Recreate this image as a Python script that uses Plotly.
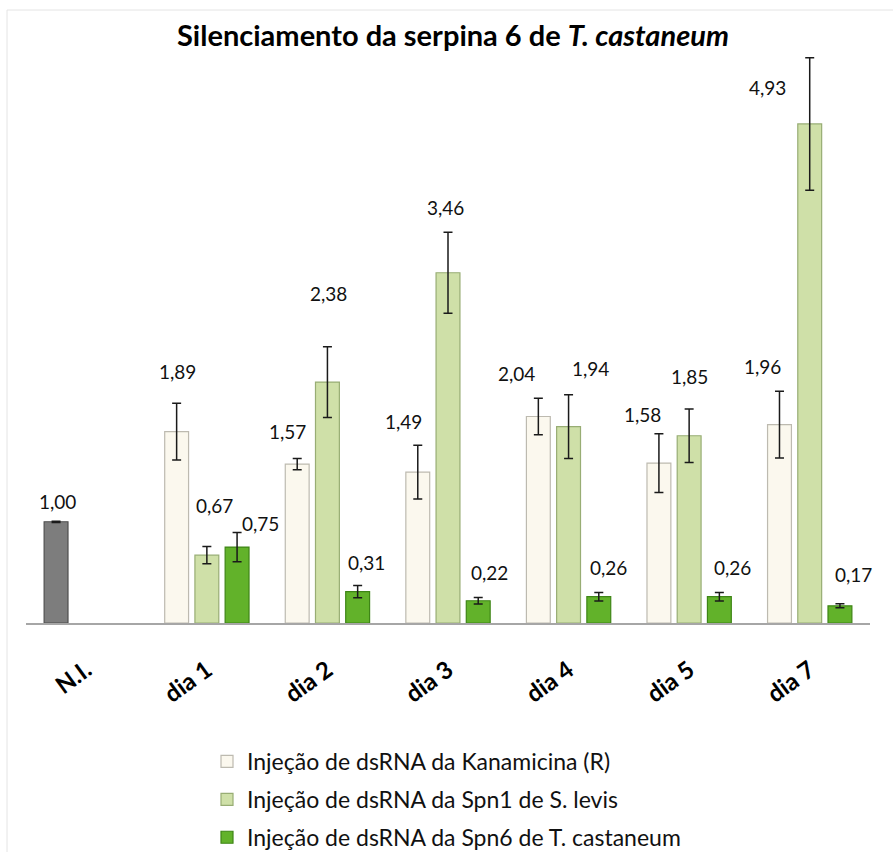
import plotly.graph_objects as go

# ---------------- data ----------------
categories = ["N.I.", "dia 1", "dia 2", "dia 3", "dia 4", "dia 5", "dia 7"]
days = ["dia 1", "dia 2", "dia 3", "dia 4", "dia 5", "dia 7"]

ni_value = [1.00]
ni_error = [0.006]

kana_values = [1.89, 1.57, 1.49, 2.04, 1.58, 1.96]
kana_errors = [0.28, 0.055, 0.265, 0.18, 0.29, 0.33]

spn1_values = [0.67, 2.38, 3.46, 1.94, 1.85, 4.93]
spn1_errors = [0.085, 0.35, 0.40, 0.315, 0.265, 0.655]

spn6_values = [0.75, 0.31, 0.22, 0.26, 0.26, 0.17]
spn6_errors = [0.145, 0.06, 0.032, 0.042, 0.042, 0.02]

series_names = [
    "Injeção de dsRNA da Kanamicina (R)",
    "Injeção de dsRNA da Spn1 de S. levis",
    "Injeção de dsRNA da Spn6 de T. castaneum",
]

# ---------------- styles ----------------
FONT = "Lato"
fills = ["#fbf8ee", "#cfe0a8", "#62b22a"]
edges = ["#bdbab0", "#98ad74", "#3e8516"]
ni_fill, ni_edge = "#7d7d7d", "#4f4f4f"

# hand-placed label offsets (px) relative to group centre / error-bar top
kana_lab_dx = [-29, -40, -45, -52, -47, -47]
kana_lab_dy = [32, 27, 24, 25, 19, 25]
spn1_lab_dx = [8, 1, -3, 22, 0, -42]
spn1_lab_dy = [41, 53, 25, 26, 32, -30]
spn6_lab_dx = [54, 39, 41, 40, 43, 44]
spn6_lab_dy = [9, 23, 25, 25, 25, 29]
ni_lab_dx, ni_lab_dy = -29, 20

fig = go.Figure()

err_style = dict(type="data", color="#1a1a1a", thickness=1.5, width=4.5, visible=True)

fig.add_trace(go.Bar(
    x=["N.I."], y=ni_value, name="N.I.", showlegend=False, offsetgroup="k",
    marker=dict(color=ni_fill, line=dict(color=ni_edge, width=1.2)),
    error_y=dict(array=ni_error, **err_style),
))

for name, vals, errs, fc, ec, og in zip(
    series_names,
    [kana_values, spn1_values, spn6_values],
    [kana_errors, spn1_errors, spn6_errors],
    fills, edges, ["k", "s1", "s6"],
):
    fig.add_trace(go.Bar(
        x=days, y=vals, name=name, offsetgroup=og, legendgroup=og,
        marker=dict(color=fc, line=dict(color=ec, width=1.2)),
        error_y=dict(array=errs, **err_style),
    ))

def fmt(v):
    return f"{v:.2f}".replace(".", ",")

LABEL_FONT = dict(family=FONT, size=19, color="#111")
annotations = []
annotations.append(dict(
    x="N.I.", y=ni_value[0] + ni_error[0], text=fmt(ni_value[0]),
    xshift=ni_lab_dx, yshift=ni_lab_dy, showarrow=False,
    xanchor="center", yanchor="middle", font=LABEL_FONT,
))
for vals, errs, dxs, dys in [
    (kana_values, kana_errors, kana_lab_dx, kana_lab_dy),
    (spn1_values, spn1_errors, spn1_lab_dx, spn1_lab_dy),
    (spn6_values, spn6_errors, spn6_lab_dx, spn6_lab_dy),
]:
    for d, v, e, dx, dy in zip(days, vals, errs, dxs, dys):
        annotations.append(dict(
            x=d, y=v + e, text=fmt(v), xshift=dx, yshift=dy, showarrow=False,
            xanchor="center", yanchor="middle", font=LABEL_FONT,
        ))

fig.update_layout(
    width=893, height=852,
    margin=dict(l=26, r=23, t=45, b=229, autoexpand=False),
    paper_bgcolor="white", plot_bgcolor="white",
    barmode="group", bargap=0.248, bargroupgap=0.21,
    title=dict(
        text="Silenciamento da serpina 6 de <i>T. castaneum</i>",
        xref="paper", x=(453 - 26) / 844, xanchor="center",
        yref="container", y=1 - 36 / 852, yanchor="middle",
        font=dict(family=FONT, size=29, color="#000", weight="bold"),
    ),
    xaxis=dict(
        type="category", categoryorder="array", categoryarray=categories,
        range=[-0.5, 6.5], automargin=False,
        showline=True, linecolor="#a6a6a6", linewidth=1.5,
        showgrid=False, ticks="outside", ticklen=22, tickcolor="rgba(0,0,0,0)",
        tickangle=-36,
        tickfont=dict(family=FONT, size=24, color="#000", weight="bold"),
    ),
    yaxis=dict(range=[0, 5.71], visible=False, showgrid=False, zeroline=False),
    legend=dict(
        x=(207 - 26) / 844, xanchor="left", y=(623 - 740) / 578, yanchor="top",
        orientation="v", tracegroupgap=5,
        font=dict(family=FONT, size=23, color="#111"),
        bgcolor="rgba(0,0,0,0)",
    ),
    annotations=annotations,
    shapes=[dict(
        type="rect", xref="paper", yref="paper",
        x0=(7 - 26) / 844, x1=(1000 - 26) / 844,
        y0=(623 - 1000) / 578, y1=(623 - 10) / 578,
        line=dict(color="#e4e4e4", width=1), fillcolor="rgba(0,0,0,0)", layer="below",
    )],
)

fig.write_html(
    "out.html",
    config={"displayModeBar": False},
    post_script="document.body.style.margin='0';document.body.style.overflow='hidden';",
)
